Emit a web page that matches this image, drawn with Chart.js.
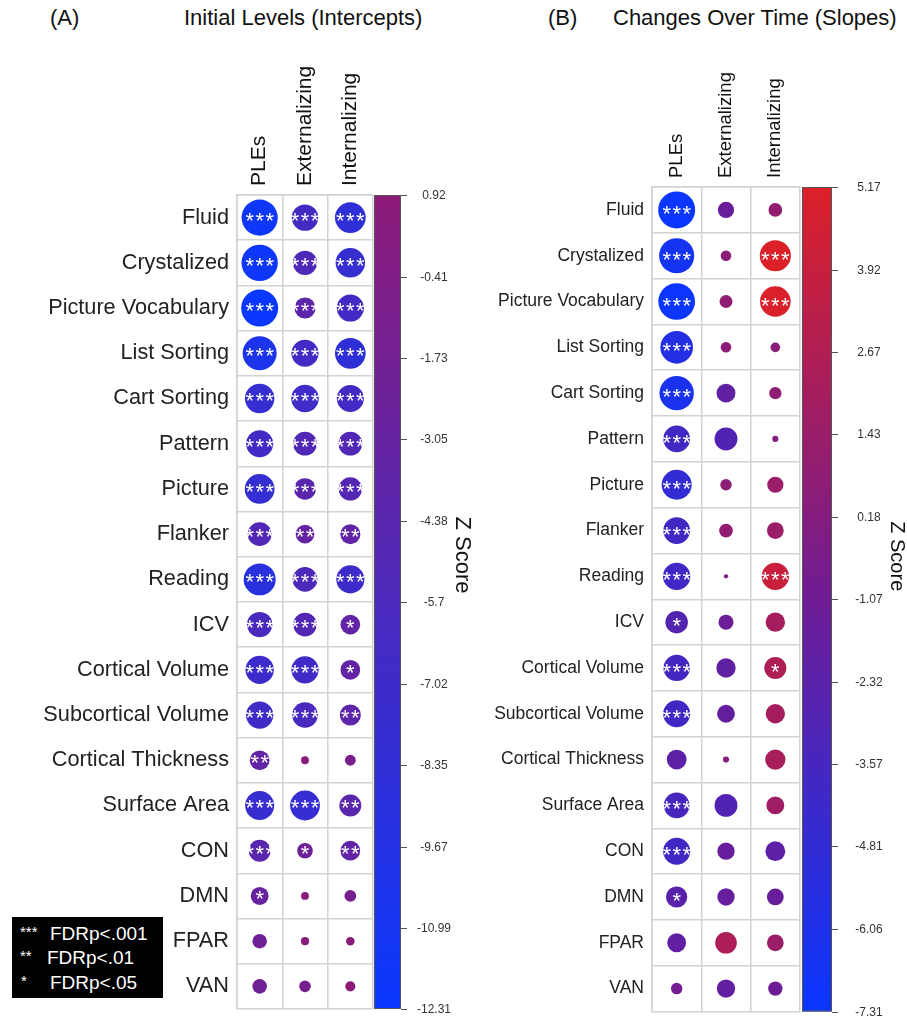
<!DOCTYPE html>
<html><head><meta charset="utf-8">
<script src="https://cdn.jsdelivr.net/npm/chart.js@4.4.0/dist/chart.umd.min.js"></script>
<style>
html,body{margin:0;padding:0;background:#fff;}
body{width:907px;height:1030px;position:relative;overflow:hidden;font-family:Arial,"Liberation Sans",sans-serif;}
canvas{position:absolute;left:0;top:0;}
.t{position:absolute;font-size:22px;line-height:22px;color:#111;white-space:nowrap;}
#legend{position:absolute;left:12px;top:917px;width:151px;height:81px;background:#000;color:#fff;}
#legend span{position:absolute;white-space:nowrap;line-height:1;}
#err{position:absolute;left:0;top:40px;color:red;font-size:12px;white-space:pre;}
</style></head><body>
<div class="t" style="left:50px;top:7px">(A)</div>
<div class="t" style="left:184px;top:7px">Initial Levels (Intercepts)</div>
<div class="t" style="left:548px;top:7px">(B)</div>
<div class="t" style="left:613px;top:7px">Changes Over Time (Slopes)</div>
<canvas id="cA" width="907" height="1030"></canvas>
<canvas id="cB" width="907" height="1030"></canvas>
<div id="legend">
  <span style="left:8px;top:7px;font-size:15px">***</span><span style="left:38px;top:7px;font-size:19px">FDRp&lt;.001</span>
  <span style="left:8px;top:31px;font-size:15px">**</span><span style="left:35px;top:31px;font-size:19px">FDRp&lt;.01</span>
  <span style="left:9px;top:56px;font-size:15px">*</span><span style="left:38px;top:56px;font-size:19px">FDRp&lt;.05</span>
</div>
<div id="err"></div>
<script>
window.onerror = function(m, s, l, c, e){ document.getElementById('err').textContent += m + ' @' + l + ':' + c + '\n'; };
// ---------- data ----------
const rows = ["Fluid","Crystalized","Picture Vocabulary","List Sorting","Cart Sorting","Pattern","Picture","Flanker","Reading","ICV","Cortical Volume","Subcortical Volume","Cortical Thickness","Surface Area","CON","DMN","FPAR","VAN"];
const cols = ["PLEs","Externalizing","Internalizing"];

// (A) Initial levels (intercepts) Z scores
const interceptPLEs = [-11.8,-11.9,-12.31,-10.4,-7.8,-6.6,-8.0,-5.1,-9.2,-5.8,-7.2,-6.7,-3.5,-7.6,-4.3,-2.9,-1.9,-1.9];
const interceptExt  = [-6.3,-5.3,-4.0,-6.6,-6.8,-5.1,-4.2,-3.1,-5.5,-5.0,-6.7,-5.9,0.56,-8.0,-2.2,0.56,0.6,-1.2];
const interceptInt  = [-8.5,-7.8,-6.6,-8.5,-6.6,-5.1,-4.9,-3.6,-7.1,-3.5,-3.5,-4.0,-1.06,-4.3,-3.5,-1.25,0.65,0.92];
const interceptSigPLEs = ["***","***","***","***","***","***","***","***","***","***","***","***","**","***","***","*","",""];
const interceptSigExt  = ["***","***","***","***","***","***","***","**","***","***","***","***","","***","*","","",""];
const interceptSigInt  = ["***","***","***","***","***","***","***","**","***","*","*","**","","**","**","","",""];
const interceptTicks = [0.92,-0.41,-1.73,-3.05,-4.38,-5.7,-7.02,-8.35,-9.67,-10.99,-12.31];

// (B) Changes over time (slopes) Z scores
const slopePLEs = [-7.31,-6.6,-7.2,-5.7,-6.3,-3.8,-4.8,-3.8,-4.0,-2.7,-3.7,-3.9,-2.1,-3.5,-3.9,-2.4,-1.9,-0.7];
const slopeExt  = [-1.4,0.6,0.9,0.6,-1.9,-2.8,0.7,1.0,0.1,-1.2,-2.0,-1.7,0.2,-2.8,-1.6,-1.6,2.5,-1.8];
const slopeInt  = [1.0,5.17,5.0,0.5,0.8,0.2,1.4,1.5,4.0,2.0,2.6,2.0,2.2,1.7,-2.1,-1.5,1.5,-1.1];
const slopeSigPLEs = ["***","***","***","***","***","***","***","***","***","*","***","***","","***","***","*","",""];
const slopeSigExt  = ["","","","","","","","","","","","","","","","","",""];
const slopeSigInt  = ["","***","***","","","","","","***","","*","","","","","","",""];
const slopeTicks = [5.17,3.92,2.67,1.43,0.18,-1.07,-2.32,-3.57,-4.81,-6.06,-7.31];

// ---------- helpers ----------
function hex(h){return [parseInt(h.slice(1,3),16),parseInt(h.slice(3,5),16),parseInt(h.slice(5,7),16)];}
function colorAt(z, stops){
  if (z <= stops[0][0]) return stops[0][1];
  for (let i=1;i<stops.length;i++){
    if (z <= stops[i][0]){
      const t=(z-stops[i-1][0])/(stops[i][0]-stops[i-1][0]);
      const a=hex(stops[i-1][1]), b=hex(stops[i][1]);
      return 'rgb('+a.map((v,k)=>Math.round(v+(b[k]-v)*t)).join(',')+')';
    }
  }
  return stops[stops.length-1][1];
}

function makePanel(id, cfg){
  const zmin = Math.min(...cfg.ticks), zmax = Math.max(...cfg.ticks);
  const maxAbs = Math.max(Math.abs(zmin), Math.abs(zmax));
  const pts = [];
  cfg.series.forEach((arr,ci)=>arr.forEach((z,ri)=>pts.push({x:cols[ci], y:rows[ri], ci:ci, ri:ri, z:z, s:cfg.sig[ci][ri]})));
  const FONT = 'Arial, "Liberation Sans", sans-serif';
  const zOf = c => (c && c.raw && typeof c.raw.z === 'number') ? c.raw.z : 0;
  const plugin = {
    id: 'panel'+id,
    afterDatasetsDraw(chart){
      const ctx = chart.ctx, xs = chart.scales.x, ys = chart.scales.y;
      ctx.save();
      ctx.fillStyle = '#fff';
      ctx.font = cfg.starFont + 'px ' + FONT;
      ctx.textAlign = 'center'; ctx.textBaseline = 'alphabetic';
      pts.forEach(p=>{
        const px = xs.getPixelForValue(p.ci), py = ys.getPixelForValue(p.ri);
        const n = p.s.length;
        for (let k=0;k<n;k++){
          ctx.fillText('*', px + (k-(n-1)/2)*cfg.starGap, py + cfg.starDy);
        }
      });
      ctx.restore();
    },
    afterDraw(chart){
      const ctx = chart.ctx, ca = chart.chartArea, zs = chart.scales.z, xs = chart.scales.x;
      ctx.save();
      // column labels
      ctx.fillStyle = '#111';
      ctx.font = cfg.colFont + 'px ' + FONT;
      ctx.textAlign = 'left'; ctx.textBaseline = 'middle';
      cols.forEach((c,i)=>{
        ctx.save();
        ctx.translate(xs.getPixelForValue(i), ca.top - cfg.colGap);
        ctx.rotate(-Math.PI/2);
        ctx.fillText(c, 0, 0);
        ctx.restore();
      });
      // colour bar
      const x0 = ca.right + cfg.cbGap, w = cfg.cbWidth;
      const top = zs.getPixelForValue(zmax), bot = zs.getPixelForValue(zmin);
      const g = ctx.createLinearGradient(0, bot, 0, top);
      cfg.stops.forEach(s=>g.addColorStop((s[0]-zmin)/(zmax-zmin), s[1]));
      ctx.fillStyle = g;
      ctx.fillRect(x0, top, w, bot-top);
      ctx.strokeStyle = '#555'; ctx.lineWidth = 1;
      ctx.strokeRect(x0+0.5, top+0.5, w-1, bot-top-1);
      ctx.fillStyle = '#333';
      ctx.font = '12px ' + FONT;
      ctx.textAlign = 'center'; ctx.textBaseline = 'middle';
      cfg.ticks.forEach(v=>{
        const y = Math.round(zs.getPixelForValue(v))+0.5;
        ctx.beginPath(); ctx.moveTo(x0+w, y); ctx.lineTo(x0+w+6, y); ctx.stroke();
        ctx.fillText(String(v), x0+w+cfg.labelDx, y);
      });
      // Z Score title
      ctx.fillStyle = '#111';
      ctx.font = cfg.zFont + 'px ' + FONT;
      ctx.save();
      ctx.translate(ca.right + cfg.zDx, (top+bot)/2 + cfg.zDy);
      ctx.rotate(Math.PI/2);
      ctx.fillText('Z Score', 0, 0);
      ctx.restore();
      ctx.restore();
    }
  };
  const gridOpts = {offset:true, color:'#d2d2d2', lineWidth:1.5, drawTicks:false};
  const borderOpts = {color:'#d2d2d2', width:1.5};
  return new Chart(document.getElementById(id), {
    type: 'bubble',
    data: { datasets: [{
      xAxisID: 'x', yAxisID: 'y',
      data: pts,
      backgroundColor: c => colorAt(zOf(c), cfg.stops),
      borderWidth: 0,
      radius: c => {
        const ch = c.chart;
        const hw = ch.chartArea ? (ch.chartArea.right-ch.chartArea.left)/cols.length/2 : 20;
        const hh = ch.chartArea ? (ch.chartArea.bottom-ch.chartArea.top)/rows.length/2 : 20;
        return 0.925*(hw+hh)/2*Math.sqrt(Math.abs(zOf(c))/maxAbs);
      }
    }]},
    options: {
      responsive: false, animation: false, devicePixelRatio: 1, events: [],
      layout: { padding: cfg.padding },
      plugins: { legend:{display:false}, tooltip:{enabled:false} },
      scales: {
        x: { type:'category', labels: cols, position:'top', offset:true,
             grid: gridOpts, border: borderOpts, ticks:{display:false},
             afterFit: s => { s.height = cfg.xHeight; } },
        y: { type:'category', labels: rows, position:'left', offset:true,
             grid: gridOpts, border: borderOpts,
             ticks:{ color:'#222', padding:8, autoSkip:false, font:{size:cfg.rowFont, family:FONT} },
             afterFit: s => { s.width = cfg.yWidth; } },
        z: { type:'linear', position:'right', display:false, min:zmin, max:zmax }
      }
    },
    plugins: [plugin]
  });
}

makePanel('cA', {
  series: [interceptPLEs, interceptExt, interceptInt],
  sig: [interceptSigPLEs, interceptSigExt, interceptSigInt],
  ticks: interceptTicks,
  stops: [[-12.31,'#0a38ff'],[0.92,'#8c1a78']],
  padding: {left:0, top:0, right:534, bottom:17},
  yWidth: 237, xHeight: 195,
  rowFont: 21.7, colFont: 21, colGap: 9,
  starFont: 22, starGap: 10, starDy: 10,
  cbGap: 1, cbWidth: 27, labelDx: 33,
  zFont: 22, zDx: 89, zDy: -47
});
makePanel('cB', {
  series: [slopePLEs, slopeExt, slopeInt],
  sig: [slopeSigPLEs, slopeSigExt, slopeSigInt],
  ticks: slopeTicks,
  stops: [[-7.31,'#0a36ff'],[-1.07,'#6e1c94'],[5.17,'#dc2028']],
  padding: {left:0, top:0, right:107, bottom:6},
  yWidth: 652, xHeight: 187,
  rowFont: 17.5, colFont: 18.5, colGap: 9,
  starFont: 22, starGap: 10, starDy: 11,
  cbGap: 2, cbWidth: 30, labelDx: 37,
  zFont: 20, zDx: 97, zDy: -43
});
</script>
</body></html>
